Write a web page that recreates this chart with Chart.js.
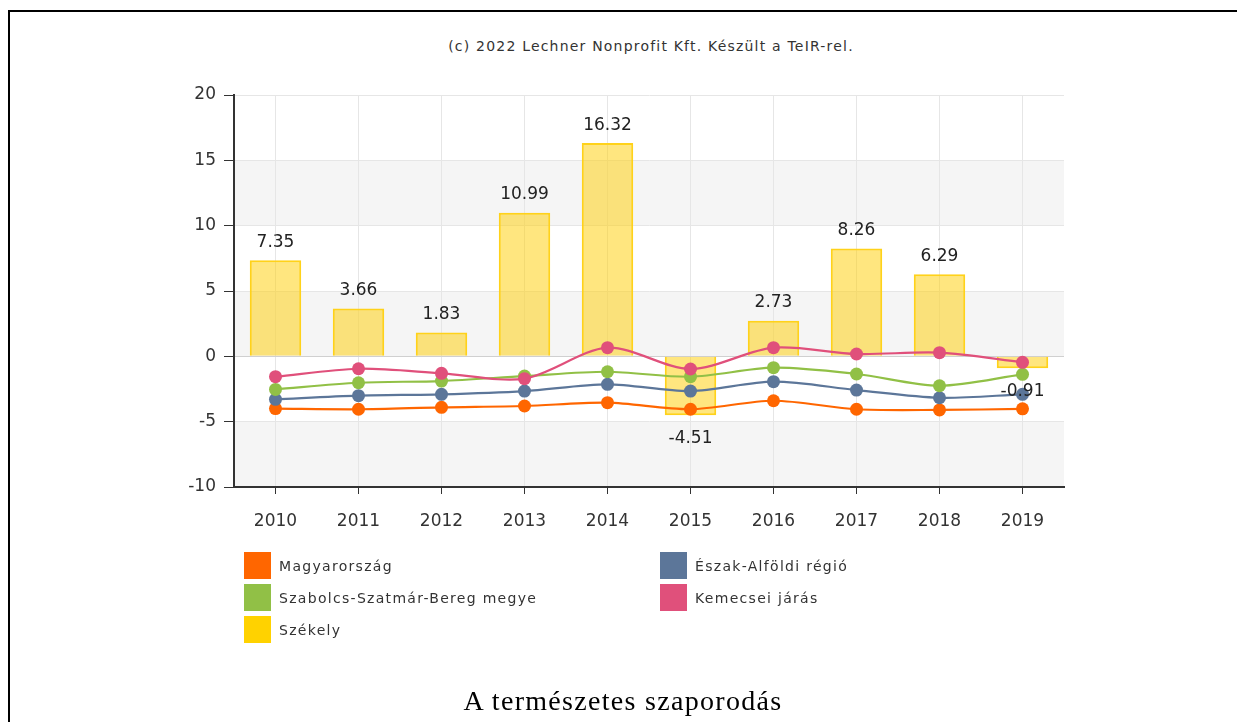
<!DOCTYPE html>
<html lang="hu">
<head>
<meta charset="utf-8">
<script src="https://cdn.jsdelivr.net/npm/chart.js@4"></script>
<style>
  html, body { margin: 0; padding: 0; background: #fff; overflow: hidden; }
  body { width: 1237px; height: 722px; position: relative; }
  #frameTop { position: absolute; left: 8px; top: 10px; width: 1229px; height: 2px; background: #000; }
  #frameLeft { position: absolute; left: 8px; top: 10px; width: 2px; height: 712px; background: #000; }
  #chartBox { position: absolute; left: 0; top: 0; width: 1237px; height: 722px; }
  #credit { position: absolute; left: 0; width: 1302px; top: 38px; text-align: center;
            font: 14px "DejaVu Sans", sans-serif; color: #333; letter-spacing: 1.2px; }
  #legend { position: absolute; left: 244px; top: 552px; width: 820px;
            display: grid; grid-template-columns: 416px 400px; row-gap: 5px; }
  .item { display: flex; align-items: center; height: 27px;
          font: 14px "DejaVu Sans", sans-serif; color: #333; letter-spacing: 1.3px; }
  .box { width: 27px; height: 27px; margin-right: 8px; box-sizing: border-box; }
  #caption { position: absolute; left: 0; width: 1246px; top: 685px; text-align: center;
             font: 28px "Liberation Serif", serif; color: #000; letter-spacing: 1.3px; }
</style>
</head>
<body>
<div id="frameTop"></div>
<div id="frameLeft"></div>
<div id="credit">(c) 2022 Lechner Nonprofit Kft. Készült a TeIR-rel.</div>
<div id="chartBox"><canvas id="termChart" width="1237" height="722"></canvas></div>
<div id="legend"></div>
<div id="caption">A természetes szaporodás</div>
<script>
// Adatok
const years = ['2010', '2011', '2012', '2013', '2014', '2015', '2016', '2017', '2018', '2019'];
const szekely = [7.35, 3.66, 1.83, 10.99, 16.32, -4.51, 2.73, 8.26, 6.29, -0.91];
const magyarorszag = [-4.0, -4.05, -3.9, -3.8, -3.55, -4.05, -3.4, -4.05, -4.1, -4.02];
const eszakAlfold = [-3.29, -3.01, -2.91, -2.66, -2.14, -2.66, -1.94, -2.58, -3.17, -2.91];
const szabolcs = [-2.53, -2.02, -1.89, -1.51, -1.18, -1.56, -0.87, -1.35, -2.25, -1.38];
const kemecse = [-1.56, -0.95, -1.3, -1.71, 0.66, -0.97, 0.66, 0.18, 0.28, -0.46];
const yTicks = [-10, -5, 0, 5, 10, 15, 20];
const bands = [[10, 15], [0, 5], [-10, -5]];

const lineSeries = [
    { label: 'Magyarország', data: magyarorszag, color: '#ff6600' },
    { label: 'Észak-Alföldi régió', data: eszakAlfold, color: '#5c7699' },
    { label: 'Szabolcs-Szatmár-Bereg megye', data: szabolcs, color: '#91c046' },
    { label: 'Kemecsei járás', data: kemecse, color: '#e0507b' }
];

// Szürke sávok a háttérben
const bandPlugin = {
    id: 'bands',
    beforeDraw(chart) {
        const { ctx, chartArea, scales } = chart;
        ctx.save();
        ctx.fillStyle = '#f5f5f5';
        bands.forEach(([from, to]) => {
            const y1 = scales.y.getPixelForValue(to);
            const y2 = scales.y.getPixelForValue(from);
            ctx.fillRect(chartArea.left, y1, chartArea.right - chartArea.left, y2 - y1);
        });
        ctx.restore();
    }
};

// Értékcímkék az oszlopokon
const barLabels = {
    id: 'barLabels',
    afterDatasetsDraw(chart) {
        const { ctx } = chart;
        const meta = chart.getDatasetMeta(0);
        ctx.save();
        ctx.font = '17px "DejaVu Sans", sans-serif';
        ctx.fillStyle = '#222';
        ctx.textAlign = 'center';
        ctx.textBaseline = 'middle';
        meta.data.forEach((bar, i) => {
            const v = szekely[i];
            const y = v >= 0 ? bar.y - 18 : bar.y + 23;
            ctx.fillText(v.toFixed(2), bar.x, y);
        });
        ctx.restore();
    }
};

const datasets = [{
    type: 'bar',
    label: 'Székely',
    data: szekely,
    backgroundColor: 'rgba(255, 206, 0, 0.5)',
    borderColor: '#ffd21a',
    borderWidth: 2,
    barPercentage: 0.62,
    categoryPercentage: 1,
    order: 10
}].concat(lineSeries.map((s, i) => ({
    type: 'line',
    label: s.label,
    data: s.data,
    borderColor: s.color,
    backgroundColor: s.color,
    borderWidth: 2.2,
    pointRadius: 6.5,
    pointBorderWidth: 0,
    tension: 0.3,
    order: 5 - i
})));

new Chart(document.getElementById('termChart').getContext('2d'), {
    type: 'bar',
    data: { labels: years, datasets: datasets },
    options: {
        responsive: false,
        animation: false,
        layout: { padding: { left: 150, top: 95, right: 173, bottom: 175 } },
        plugins: {
            legend: { display: false },
            tooltip: { enabled: false }
        },
        scales: {
            x: {
                afterFit(scale) { scale.height = 60; },
                grid: { offset: false, color: '#e6e6e6', tickColor: '#333', tickLength: 7 },
                border: { color: '#333', width: 2 },
                ticks: { color: '#333', font: { family: 'DejaVu Sans', size: 17 }, padding: 17 }
            },
            y: {
                min: -10,
                max: 20,
                afterFit(scale) { scale.width = 84; },
                afterBuildTicks(scale) { scale.ticks = yTicks.map(v => ({ value: v })); },
                grid: {
                    color: ctx => (ctx.tick && ctx.tick.value === 0 ? '#d0d0d0' : '#e6e6e6'),
                    tickColor: '#333',
                    tickLength: 10
                },
                border: { color: '#333', width: 2 },
                ticks: { color: '#333', font: { family: 'DejaVu Sans', size: 17 }, padding: 8 }
            }
        }
    },
    plugins: [bandPlugin, barLabels]
});

// HTML jelmagyarázat, két oszlopban
const legendItems = [
    { label: 'Magyarország', color: '#ff6600' },
    { label: 'Észak-Alföldi régió', color: '#5c7699' },
    { label: 'Szabolcs-Szatmár-Bereg megye', color: '#91c046' },
    { label: 'Kemecsei járás', color: '#e0507b' },
    { label: 'Székely', color: '#ffd200' }
];
const legend = document.getElementById('legend');
legendItems.forEach(item => {
    const div = document.createElement('div');
    div.className = 'item';
    div.innerHTML = '<span class="box" style="background:' + item.color + '"></span>' + item.label;
    legend.appendChild(div);
});
</script>
</body>
</html>
